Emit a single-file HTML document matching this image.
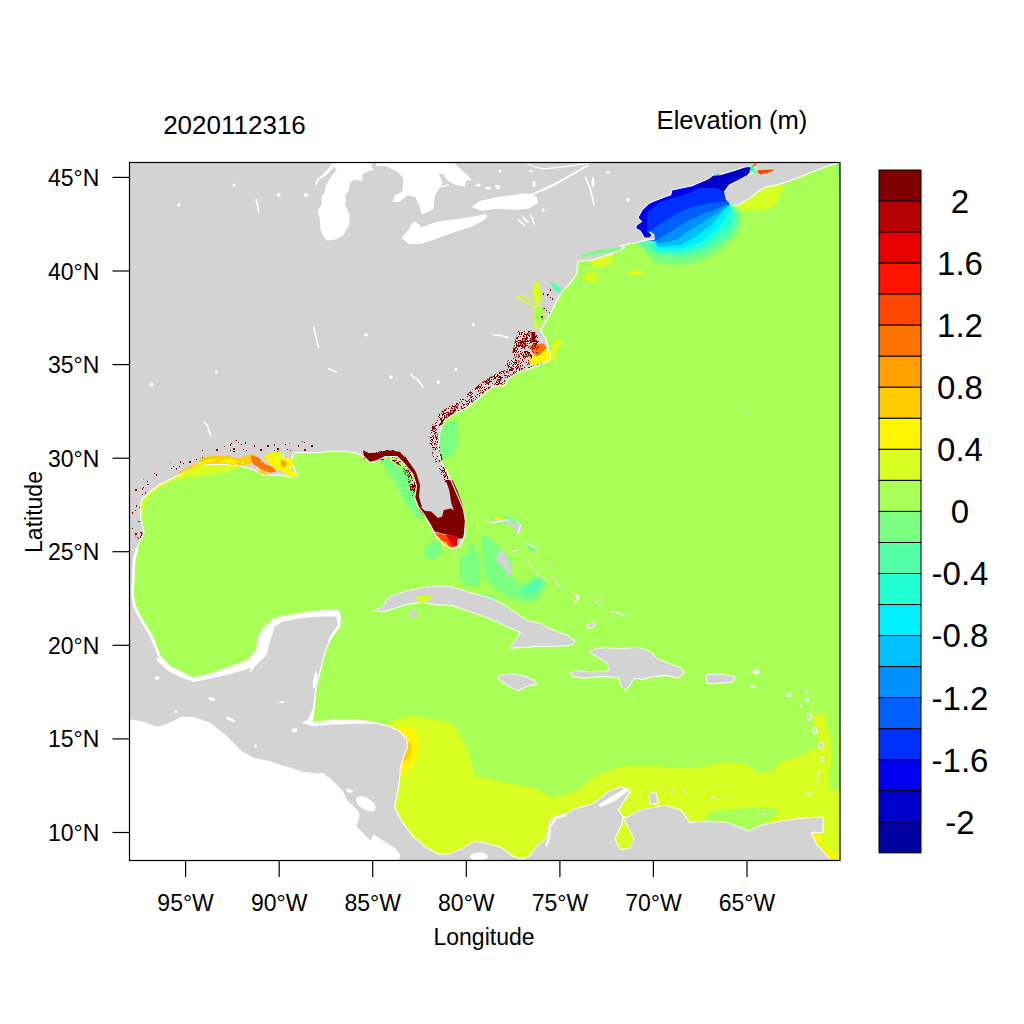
<!DOCTYPE html>
<html><head><meta charset="utf-8"><style>
html,body{margin:0;padding:0;background:#fff;width:1024px;height:1024px;overflow:hidden}
svg{display:block}
text{font-family:"Liberation Sans",sans-serif;fill:#000}
.ax{font-size:23px}
.cb{font-size:33px}
.k{stroke:#000;stroke-width:1.2}
</style></head><body>
<svg width="1024" height="1024" viewBox="0 0 1024 1024">
<rect x="129.5" y="162.5" width="710.5" height="698" fill="#fff"/>
<g id="map">
<rect x="129.5" y="162.5" width="710.5" height="698" fill="#D3D3D3"/>
<defs><clipPath id="oc"><polygon points="840,162.5 838.5,162.6 830.3,165.1 822.1,168.2 813.8,171.3 803.6,175.4 793.3,179.5 783.1,183.1 773.8,185.6 767.7,186.7 760.5,189.7 750.3,197.9 740,204.1 738.8,205.3 732.5,205.3 726.3,199.1 724.7,191.3 729.4,185 738.8,180.3 755.9,170.9 754.4,163.9 751.3,166.3 745,167 732.5,170.9 720,174.8 713.1,175 707.7,179.1 691.3,186 671.9,190 670.7,194.7 663.1,197.6 655.5,200.5 649.6,202.9 642.6,209.3 637.9,217.5 641.4,221.6 636.7,225.1 635.5,228.1 640.2,231 644.3,238 649.6,238 652.3,235 649.8,232.2 653.7,234.5 654.3,239.2 644.3,240.4 636.7,242.7 629.4,243.5 620,245.9 625,247.2 618.75,251.1 593.75,259.7 578,261.25 576.6,273.75 570.3,283.1 562.5,290.9 557.8,298.75 551.6,311.25 545.3,322.2 540.6,330 545.6,338.6 550.3,355 549.7,360.6 538.75,365.3 529.4,368.4 520,371.6 513.75,374.7 507.5,379.4 504.4,385.6 498.1,385.6 491.9,387.2 482.5,395 473.1,402.8 466.9,407.5 454.4,413.75 445,420 440.3,429.4 438.75,441.9 438.1,446.9 440,458.6 446,470.3 451.8,482 457.7,495.7 463.5,509.4 465.5,521.1 464.5,536.7 459.6,546.5 451.8,548.4 444,544.5 436.2,536.7 430.3,525 424.5,515.2 418.6,507.4 414.7,497.7 416.6,485.9 412.7,474.2 404.9,464.5 397.1,456.6 385.4,456.6 377.6,460.5 369.8,462.5 363.9,456.6 354,452.5 341.5,451.25 329,451.25 319,452.5 304,452.5 293.75,452.8 291.4,461 297.3,476.25 290,477 282,475 263.3,475 252.7,469.2 238.7,465.7 224,464.5 211.5,464.5 199,465 189,468.75 179,475 169,480 159,485 149,492.5 141.5,500 140.8,505 140.8,518.7 144.3,532.7 137.3,546.8 134.7,559.1 132.9,594.2 135,606 140.8,617.1 151.4,634.7 160.1,655.7 169.6,666.25 182.1,672.5 193.1,678.1 210.25,674.1 232.1,666.25 247.75,660 250,658.1 256.6,649.8 258.3,636.5 264.9,626.6 274.9,618.3 291.5,614.9 313.1,611.6 338,610 340.5,616.6 339.6,626.6 331.3,638.2 326.4,648.1 323,659.8 319.7,673 316.4,686.3 314.7,702.9 312.25,722.8 321.4,721.2 338,720.4 356.2,719.5 376.2,722.8 389.4,726.2 399.4,731.1 406,737.8 407.7,746.1 402.7,759.4 400.2,770 399.5,780 397.6,791.7 394.6,807.3 401.5,821 413.2,836.6 424.9,846.4 438.6,854.2 448.4,854.2 462,848.4 473.75,841.5 483.5,842.5 501.1,847.4 512.8,856.2 520.6,859.1 528.4,857.1 536.25,846.4 546,838.6 549.9,821 555.8,816.1 567.5,813.2 575.3,808.3 580,807.3 593.1,803.75 608.75,791.25 621.25,786.6 630.6,791.25 624.4,800.6 618.1,810 622.8,816.25 625.9,817.8 640,810 665,805.3 680.6,810 690,822.5 705.6,821 727.5,822.5 743.1,828.75 748,831 762,825.1 783.1,820.5 801.9,818.1 823,817 823,832.2 811.2,832.2 817,845 830,859 840,860.5"/></clipPath></defs>
<polygon fill="#A8FF55" points="840,162.5 838.5,162.6 830.3,165.1 822.1,168.2 813.8,171.3 803.6,175.4 793.3,179.5 783.1,183.1 773.8,185.6 767.7,186.7 760.5,189.7 750.3,197.9 740,204.1 738.8,205.3 732.5,205.3 726.3,199.1 724.7,191.3 729.4,185 738.8,180.3 755.9,170.9 754.4,163.9 751.3,166.3 745,167 732.5,170.9 720,174.8 713.1,175 707.7,179.1 691.3,186 671.9,190 670.7,194.7 663.1,197.6 655.5,200.5 649.6,202.9 642.6,209.3 637.9,217.5 641.4,221.6 636.7,225.1 635.5,228.1 640.2,231 644.3,238 649.6,238 652.3,235 649.8,232.2 653.7,234.5 654.3,239.2 644.3,240.4 636.7,242.7 629.4,243.5 620,245.9 625,247.2 618.75,251.1 593.75,259.7 578,261.25 576.6,273.75 570.3,283.1 562.5,290.9 557.8,298.75 551.6,311.25 545.3,322.2 540.6,330 545.6,338.6 550.3,355 549.7,360.6 538.75,365.3 529.4,368.4 520,371.6 513.75,374.7 507.5,379.4 504.4,385.6 498.1,385.6 491.9,387.2 482.5,395 473.1,402.8 466.9,407.5 454.4,413.75 445,420 440.3,429.4 438.75,441.9 438.1,446.9 440,458.6 446,470.3 451.8,482 457.7,495.7 463.5,509.4 465.5,521.1 464.5,536.7 459.6,546.5 451.8,548.4 444,544.5 436.2,536.7 430.3,525 424.5,515.2 418.6,507.4 414.7,497.7 416.6,485.9 412.7,474.2 404.9,464.5 397.1,456.6 385.4,456.6 377.6,460.5 369.8,462.5 363.9,456.6 354,452.5 341.5,451.25 329,451.25 319,452.5 304,452.5 293.75,452.8 291.4,461 297.3,476.25 290,477 282,475 263.3,475 252.7,469.2 238.7,465.7 224,464.5 211.5,464.5 199,465 189,468.75 179,475 169,480 159,485 149,492.5 141.5,500 140.8,505 140.8,518.7 144.3,532.7 137.3,546.8 134.7,559.1 132.9,594.2 135,606 140.8,617.1 151.4,634.7 160.1,655.7 169.6,666.25 182.1,672.5 193.1,678.1 210.25,674.1 232.1,666.25 247.75,660 250,658.1 256.6,649.8 258.3,636.5 264.9,626.6 274.9,618.3 291.5,614.9 313.1,611.6 338,610 340.5,616.6 339.6,626.6 331.3,638.2 326.4,648.1 323,659.8 319.7,673 316.4,686.3 314.7,702.9 312.25,722.8 321.4,721.2 338,720.4 356.2,719.5 376.2,722.8 389.4,726.2 399.4,731.1 406,737.8 407.7,746.1 402.7,759.4 400.2,770 399.5,780 397.6,791.7 394.6,807.3 401.5,821 413.2,836.6 424.9,846.4 438.6,854.2 448.4,854.2 462,848.4 473.75,841.5 483.5,842.5 501.1,847.4 512.8,856.2 520.6,859.1 528.4,857.1 536.25,846.4 546,838.6 549.9,821 555.8,816.1 567.5,813.2 575.3,808.3 580,807.3 593.1,803.75 608.75,791.25 621.25,786.6 630.6,791.25 624.4,800.6 618.1,810 622.8,816.25 625.9,817.8 640,810 665,805.3 680.6,810 690,822.5 705.6,821 727.5,822.5 743.1,828.75 748,831 762,825.1 783.1,820.5 801.9,818.1 823,817 823,832.2 811.2,832.2 817,845 830,859 840,860.5" />
<g clip-path="url(#oc)">
<polygon fill="#D9FF22" points="385,726.2 389.4,722.8 399.4,717.9 409.4,716.2 420,717 449,722.5 452.5,724 461.9,738.1 471.25,760 474.4,775.6 502.5,781.9 533.75,788.1 552.5,797.5 577.5,791.25 596.25,775.6 621.25,766.25 658.75,766.25 680,767.7 703.4,766.6 726.9,761.9 745.6,764.2 759.7,773.6 770,772.3 776.8,767.4 780.7,760.5 791.5,758.6 802.2,754.7 813,749.8 818.8,747.9 817.9,739.1 815.9,727.3 812,717.6 814,713.7 824.7,712.7 826.6,724.4 830.5,739.1 831.5,758.6 828.6,778.1 829.6,789.8 845,790.8 845,870 380,870" />
<polygon fill="#FFF500" points="390,729 394.6,728.75 410,727 419.6,738 416.5,760 404,775.6 396,776" />
<polygon fill="#FFCC00" points="398,737 404,738 411.8,744.4 410.25,757 402.3,763 397,762" />
<polygon fill="#A8FF55" points="703,822.8 710,811 738,808.5 757,807.5 780,808.7 779,812 762,825 748,831 731.6,827.5 724.5,820.5" />
<polygon fill="#A8FF55" points="787.4,823.2 811.5,820.7 812.3,826.5 804.8,831.5 796.5,834.8 791.5,827.4" />
<polygon fill="#FFF500" points="809,832.3 819.8,832.3 821.4,839.8 826.4,844.8 838.9,858.9 828.1,859.7 824.7,846.4 811.5,835.7" />
<polygon fill="#7AFF80" points="640.5,245.3 653.4,261.7 671,265.2 695.6,262.9 719,251.2 735.5,235.9 742.5,221.9 741.3,213.7 733.1,206.6 735,200 760,150 620,150 625,238" />
<polygon fill="#55FFAA" points="643,247 657.8,255 681.25,257.3 704.7,252.7 730,236.25 738,222 737,212 731,206 735,200 760,150 620,150 625,238" />
<polygon fill="#22FFD5" points="653,239.5 652,246 657.8,251.9 681.25,252.7 704.7,246.4 730,226.9 734,214 731,205.5 735,200 760,150 620,150 625,238" />
<polygon fill="#00F0FF" points="654,239 656,246 659,248.75 681.25,248.75 700.8,242.5 716.4,230 730,211.25 730,205 735,200 760,150 620,150 625,238" />
<polygon fill="#00C0FF" points="654.5,239 657,244.5 659,246.4 681.25,244.8 696.9,236.25 712.5,223.75 728,205 735,200 760,150 620,150 625,238" />
<polygon fill="#0090FF" points="655,239 657.8,243.5 677.3,239.4 689,230.8 704.7,221.4 728,205.8 735,200 760,150 620,150 625,238" />
<polygon fill="#0060FF" points="654.7,240.9 673.4,230 689,220.6 704.7,213.6 728,204.2 735,200 760,150 620,150 625,238" />
<polygon fill="#0030FF" points="650,230.8 665.6,220.6 681.25,211.25 696.9,205.8 712.5,202.7 728,201.1 735,200 760,150 620,150 625,238" />
<polygon fill="#0000F0" points="647.3,234 647.3,212.5 660,202 673.4,198 689,193.3 700.8,187.8 711,182.3 730,182 735,200 760,150 620,150 625,238" />
<polygon fill="#0000C8" points="690,186 706,188 716,188 724,192 730,186 760,160 760,150 690,150" />
<polygon fill="#0000C8" points="641,231 647,232.5 650.5,233 652,235.5 650,238.3 644.5,238.3" />
<polygon fill="#D9FF22" points="740.0,204.1 750.3,197.9 760.5,189.7 767.7,186.7 773.8,185.6 783.1,184.6 784.1,190.8 779.0,195.9 777.9,203.1 768.7,209.2 758.5,210.3 740.0,210.3" />
<polygon fill="#7AFF80" points="835.4,162.6 840.5,162.6 840.5,178.5 838.5,177.4 836.9,168.2" />
<polygon fill="#7AFF80" points="444.0,425.4 453.8,419.5 457.7,429.3 457.7,443.0 451.8,454.7 444.0,460.5 440.1,458.6 438.1,446.9 440.1,435.2" />
<polygon fill="#7AFF80" points="457.1,421 458.1,434.7 456.1,446.4 449.3,457.1 443.4,460.1 439.5,448.4 440.5,432.7 447.3,423" />
<polygon fill="#7AFF80" points="383.4,456.6 395.2,464.5 406.9,470.3 414.7,482.0 416.6,497.7 418.6,509.4 424.5,519.1 416.6,517.2 406.9,505.5 397.1,487.9 387.3,470.3 379.5,458.6" />
<polygon fill="#7AFF80" points="424.5,548.4 432.3,540.6 442.0,544.5 442.0,554.3 434.2,559.2 424.5,558.2" />
<polygon fill="#D9FF22" points="553.9,340.6 560.9,339 562.5,342.2 558.6,350 554.7,360.9 550.8,360.2 550.8,350" />
<polygon fill="#D9FF22" points="138,520 140.7,504 152.4,490.3 168,478.6 187.6,468.8 207.1,464 222.75,464 240.3,467.85 226.7,471.75 207.1,475.5 187.6,477.5 168,483 155,491 146,501 142,516" />
<polygon fill="#7AFF80" points="482.3,535.5 489.1,536.9 497.3,545.1 501.4,549.2 508.3,557.4 516.5,565.6 527.4,572.5 534.3,576.6 543.8,579.3 546.6,584.8 541.1,594.3 534.3,601.2 522.0,601.2 511.0,598.4 497.3,590.2 486.4,579.3 483.7,562.9 480.9,546.5" />
<polygon fill="#A8FF55" points="513.8,558.8 520.6,558.8 520.6,568.4 527.4,571.1 531.5,576.6 528.8,582.0 519.2,583.4 512.4,576.6 511.0,565.6" />
<polygon fill="#55FFAA" points="520.6,590.2 535.6,580.7 541.1,577.9 541.1,587.5 531.5,594.3 522.0,594.3" />
<polygon fill="#7AFF80" points="490.5,517.8 504.2,515.0 513.8,517.8 522.0,523.2 520.6,530.1 517.9,535.5 513.8,527.3 506.9,523.2 491.9,521.9" />
<polygon fill="#D9FF22" points="493.9,517.1 502.1,514.4 503.5,519.8 494.6,520.5" />
<polygon fill="#7AFF80" points="468.6,542.4 474.1,545.1 480.9,561.5 480.3,582.0 474.1,586.1 468.6,584.8" />
<polygon fill="#7AFF80" points="524.7,543.8 534.3,546.5 535.6,552.0 528.8,549.2" />
<polygon fill="#7AFF80" points="459.6,556.2 469.4,554.3 477.2,571.9 479.1,585.5 465.5,585.5 459.6,575.8" />
<polygon fill="#7AFF80" points="475.3,595.8 490.3,594.7 498.9,600.1 481.7,602.2" />
<polygon fill="#D9FF22" points="587.5,258.1 612.5,253.4 612.5,262.8 603.1,267.5 593.8,266.7" />
<polygon fill="#D9FF22" points="584.4,273.8 593.8,271.4 598.4,275.3 596.9,281.6 587.5,281.6 582.8,278.4" />
<polygon fill="#D9FF22" points="626.6,271.4 640.6,269.8 644.5,273.0 637.5,275.3 628.1,274.5" />
</g>
<polygon fill="#FFFFFF" points="129.5,718.9 144.6,722 157.1,726.7 169.6,722.8 182.1,716.6 194.6,717.3 210.25,722.8 225.9,735.3 241.5,750.9 254,758 269.6,761.1 280,764.8 289.4,767.2 303.4,771.9 320.6,773.4 330,778.1 342.5,790.6 347.2,800 358.1,810.9 359.7,815.6 356.6,826.6 367.5,837.5 370.6,840.6 373.75,834.4 383.1,840.6 395.6,848.4 400.3,854.7 398.75,860.5 129.5,860.5" />
<ellipse cx="365.9" cy="803.9" rx="11" ry="5.8" transform="rotate(32 365.9 803.9)" fill="#fff"/>
<polygon fill="#D3D3D3" points="374.3,610.8 382.9,606.5 386.1,600.1 391.5,595.8 404.4,591.5 419.4,588.3 434.5,586.1 447.4,586.1 460.2,589.3 473.1,593.6 490.3,597.9 503.2,604.4 516.1,613 526.9,620.5 541.9,623.7 548.3,628 559.1,632.3 569.8,636.6 575.2,640.9 572,645.2 556.9,646.3 537.6,646.3 509.7,648.4 516.1,638.8 520.4,632.3 507.5,627 496.8,621.5 483.9,616.5 466.7,610.5 451.7,605.5 434.5,604.4 421.6,602.2 406.5,604.4 393.6,608.7 382.9,611.9" stroke="#fff" stroke-width="1"/>
<circle cx="413" cy="614" r="4.3" fill="#D3D3D3"/>
<polygon fill="#D9FF22" points="416.5,596 428,595.5 434,597.5 428,600 422,604 417,601" />
<polygon fill="#D3D3D3" points="497.6,676.8 507.8,673.5 523,675.6 534.4,680.6 537,684.4 528.1,685.7 517.9,690.8 510.3,687 500.2,680.6" stroke="#fff" stroke-width="1"/>
<polygon fill="#D3D3D3" points="589,650.2 604.3,647.6 622,648.9 637.3,647.1 650,651.4 657.6,659 667.8,662.9 680.5,667.9 684.3,673 677.9,678.1 667.8,675.6 652.5,676.8 642.4,679.4 634.7,678.1 630.9,683.2 625.9,690.8 620.8,685.7 619.5,678.1 609.3,676.8 596.7,676.8 584,678.1 573.8,676.8 570,673 576.3,670.5 589,671.7 601.7,671.7 609.3,670.5 606.8,662.9 596.7,656.5 590.3,652.7" stroke="#fff" stroke-width="1"/>
<polygon fill="#D3D3D3" points="705.8,674.3 723.6,674.3 735,676.8 732.5,681.9 713.5,683.7 707.1,683.2" stroke="#fff" stroke-width="1"/>
<polygon fill="#FFFFFF" points="250,658.1 256.6,649.8 258.3,636.5 264.9,626.6 274.9,618.3 291.5,614.9 313.1,611.6 338,610 340.5,616.6 339.6,626.6 331.3,638.2 326.4,648.1 323,659.8 319.7,673 316.4,686.3 314.7,702.9 312.25,722.8 321.4,721.2 338,720.4 356.2,719.5 376.2,722.8 389.4,726.2 391.1,727.8 376.2,723.7 356.2,723.7 333,724.5 313.1,726.2 301.5,722.8 308.1,719.5 313.1,707.9 314.7,693 316.4,679.7 321.4,666.4 326.4,649.8 329.7,636.5 338,624.9 336.3,616.6 319.7,616.6 299.8,618.3 283.2,621.6 274.9,626.6 269.9,641.5 266.6,654.8 255,666.4 250,673" />
<polygon fill="#FFFFFF" points="331.5,162.9 372.5,162.9 371,167.3 374,169.8 366.2,172.2 361.8,175.1 362.7,180.5 354,180 349.6,183.4 349,190.3 345.2,195.6 346.1,202 344.7,204.4 347.6,210.3 349.6,214.7 349.6,224.5 343.2,235.2 335.4,239.6 327.1,240.6 323.7,237.1 320.3,229.3 319.8,218.6 317.8,210.8 321.7,203.9 321.7,196.6 324.6,192.2 325.6,186.4 328.6,180.5 336.4,169.8" />
<polygon fill="#FFFFFF" points="315.9,185.9 319.3,179 324.6,176.6 332.5,168.8 335.9,163.4 332,163.4 327.6,169.8 322.7,174.6 317.3,179 315.4,183.4" />
<polygon fill="#FFFFFF" points="376.1,162.9 454.2,162.9 460.1,168.8 466.9,174.6 471.8,180.5 465.9,180.5 465.0,186.4 454.2,184.4 447.4,180.5 443.5,174.6 438.6,172.7 442.5,182.5 438.6,189.3 434.7,196.1 433.7,208.8 422.0,214.7 419.1,204.9 415.2,197.1 407.3,195.2 399.5,202.0 392.7,202.0 394.6,196.1 402.5,191.2 403.4,178.6 398.6,172.7 385.9,165.9 376.1,165.9" />
<polygon fill="#FFFFFF" points="401.5,238.1 409.3,228.4 411.2,224.5 415.2,221.5 419.1,224.5 421.0,227.4 434.7,222.5 444.5,220.5 462.0,218.6 477.7,215.7 485.5,213.7 487.4,216.6 483.5,220.5 471.8,226.4 454.2,232.3 438.6,238.1 421.0,244.0 409.3,244.0" />
<polygon fill="#FFFFFF" points="471.8,206.9 479.6,201.0 497.2,197.1 512.8,195.2 524.5,193.2 536.2,196.1 538.2,203.0 528.4,208.8 516.7,209.8 497.2,208.8 481.6,210.8" />
<polyline fill="none" stroke="#fff" stroke-width="1.8" points="525,195 532.4,194.3 552.7,185.4 573,174 588.2,165.1"/>
<polyline fill="none" stroke="#fff" stroke-width="1.2" points="527.3,163.8 535,167 542.5,168.9 557.8,167.6 583.1,163.8 589,163"/>
<defs><pattern id="spk" width="36" height="36" patternUnits="userSpaceOnUse"><g fill="#800000"><rect x="13" y="21" width="1" height="1"/><rect x="17" y="22" width="1" height="1"/><rect x="14" y="20" width="1" height="1"/><rect x="16" y="21" width="1" height="1"/><rect x="17" y="21" width="1" height="1"/><rect x="17" y="18" width="1" height="1"/><rect x="20" y="12" width="1" height="1"/><rect x="21" y="14" width="1" height="1"/><rect x="20" y="14" width="1" height="1"/><rect x="21" y="15" width="1" height="1"/><rect x="23" y="14" width="1" height="1"/><rect x="18" y="15" width="1" height="1"/><rect x="19" y="23" width="1" height="1"/><rect x="17" y="21" width="1" height="1"/><rect x="15" y="21" width="1" height="1"/><rect x="19" y="23" width="1" height="1"/><rect x="18" y="21" width="1" height="1"/><rect x="20" y="23" width="1" height="1"/><rect x="1" y="6" width="1" height="1"/><rect x="3" y="3" width="1" height="1"/><rect x="4" y="7" width="1" height="1"/><rect x="0" y="4" width="1" height="1"/><rect x="3" y="4" width="1" height="1"/><rect x="21" y="29" width="1" height="1"/><rect x="24" y="28" width="1" height="1"/><rect x="23" y="27" width="1" height="1"/><rect x="22" y="27" width="1" height="1"/><rect x="20" y="28" width="1" height="1"/><rect x="25" y="9" width="1" height="1"/><rect x="26" y="8" width="1" height="1"/><rect x="25" y="7" width="1" height="1"/><rect x="24" y="7" width="1" height="1"/><rect x="27" y="6" width="1" height="1"/><rect x="23" y="9" width="1" height="1"/><rect x="24" y="8" width="1" height="1"/><rect x="31" y="23" width="1" height="1"/><rect x="30" y="23" width="1" height="1"/><rect x="28" y="21" width="1" height="1"/><rect x="12" y="2" width="1" height="1"/><rect x="12" y="1" width="1" height="1"/><rect x="10" y="3" width="1" height="1"/><rect x="11" y="2" width="1" height="1"/><rect x="30" y="7" width="1" height="1"/><rect x="29" y="5" width="1" height="1"/><rect x="32" y="8" width="1" height="1"/><rect x="29" y="5" width="1" height="1"/><rect x="13" y="17" width="1" height="1"/><rect x="17" y="18" width="1" height="1"/><rect x="14" y="19" width="1" height="1"/><rect x="7" y="29" width="1" height="1"/><rect x="12" y="27" width="1" height="1"/><rect x="10" y="30" width="1" height="1"/><rect x="8" y="27" width="1" height="1"/><rect x="10" y="30" width="1" height="1"/><rect x="11" y="28" width="1" height="1"/><rect x="10" y="30" width="1" height="1"/><rect x="7" y="3" width="1" height="1"/><rect x="9" y="2" width="1" height="1"/><rect x="12" y="0" width="1" height="1"/><rect x="7" y="0" width="1" height="1"/><rect x="8" y="1" width="1" height="1"/><rect x="0" y="33" width="1" height="1"/><rect x="3" y="0" width="1" height="1"/><rect x="35" y="0" width="1" height="1"/><rect x="35" y="5" width="1" height="1"/><rect x="2" y="1" width="1" height="1"/><rect x="26" y="31" width="1" height="1"/><rect x="27" y="32" width="1" height="1"/><rect x="27" y="33" width="1" height="1"/><rect x="29" y="33" width="1" height="1"/><rect x="26" y="32" width="1" height="1"/><rect x="26" y="32" width="1" height="1"/><rect x="25" y="31" width="1" height="1"/><rect x="27" y="32" width="1" height="1"/><rect x="5" y="2" width="1" height="1"/><rect x="1" y="5" width="1" height="1"/><rect x="1" y="3" width="1" height="1"/><rect x="3" y="3" width="1" height="1"/><rect x="3" y="3" width="1" height="1"/><rect x="22" y="17" width="1" height="1"/><rect x="22" y="15" width="1" height="1"/><rect x="18" y="17" width="1" height="1"/><rect x="21" y="17" width="1" height="1"/><rect x="21" y="17" width="1" height="1"/><rect x="23" y="17" width="1" height="1"/><rect x="21" y="17" width="1" height="1"/><rect x="19" y="19" width="1" height="1"/><rect x="24" y="17" width="1" height="1"/><rect x="14" y="21" width="1" height="1"/><rect x="11" y="23" width="1" height="1"/><rect x="14" y="21" width="1" height="1"/><rect x="16" y="20" width="1" height="1"/><rect x="15" y="22" width="1" height="1"/><rect x="32" y="28" width="1" height="1"/><rect x="32" y="32" width="1" height="1"/><rect x="34" y="29" width="1" height="1"/><rect x="33" y="30" width="1" height="1"/><rect x="33" y="29" width="1" height="1"/><rect x="32" y="28" width="1" height="1"/><rect x="10" y="27" width="1" height="1"/><rect x="12" y="30" width="1" height="1"/><rect x="10" y="31" width="1" height="1"/><rect x="26" y="0" width="1" height="1"/><rect x="27" y="33" width="1" height="1"/><rect x="30" y="34" width="1" height="1"/><rect x="6" y="14" width="1" height="1"/><rect x="6" y="17" width="1" height="1"/><rect x="7" y="19" width="1" height="1"/><rect x="3" y="16" width="1" height="1"/><rect x="15" y="1" width="1" height="1"/><rect x="18" y="35" width="1" height="1"/><rect x="20" y="34" width="1" height="1"/><rect x="19" y="1" width="1" height="1"/><rect x="20" y="32" width="1" height="1"/><rect x="19" y="32" width="1" height="1"/><rect x="21" y="33" width="1" height="1"/><rect x="23" y="32" width="1" height="1"/><rect x="24" y="30" width="1" height="1"/><rect x="23" y="32" width="1" height="1"/><rect x="10" y="13" width="1" height="1"/><rect x="9" y="12" width="1" height="1"/><rect x="11" y="12" width="1" height="1"/><rect x="11" y="4" width="1" height="1"/><rect x="12" y="6" width="1" height="1"/><rect x="13" y="5" width="1" height="1"/><rect x="12" y="3" width="1" height="1"/><rect x="10" y="2" width="1" height="1"/><rect x="14" y="2" width="1" height="1"/><rect x="1" y="30" width="1" height="1"/><rect x="1" y="31" width="1" height="1"/><rect x="0" y="32" width="1" height="1"/><rect x="0" y="34" width="1" height="1"/><rect x="35" y="34" width="1" height="1"/><rect x="34" y="31" width="1" height="1"/><rect x="1" y="30" width="1" height="1"/><rect x="11" y="16" width="1" height="1"/><rect x="13" y="13" width="1" height="1"/><rect x="10" y="13" width="1" height="1"/><rect x="9" y="13" width="1" height="1"/><rect x="10" y="13" width="1" height="1"/><rect x="12" y="13" width="1" height="1"/><rect x="9" y="15" width="1" height="1"/><rect x="21" y="20" width="1" height="1"/><rect x="16" y="18" width="1" height="1"/><rect x="20" y="16" width="1" height="1"/><rect x="20" y="19" width="1" height="1"/><rect x="18" y="20" width="1" height="1"/><rect x="23" y="16" width="1" height="1"/><rect x="19" y="17" width="1" height="1"/><rect x="19" y="17" width="1" height="1"/><rect x="10" y="25" width="1" height="1"/><rect x="10" y="25" width="1" height="1"/><rect x="9" y="24" width="1" height="1"/><rect x="19" y="19" width="1" height="1"/><rect x="17" y="18" width="1" height="1"/><rect x="16" y="17" width="1" height="1"/><rect x="16" y="19" width="1" height="1"/><rect x="17" y="17" width="1" height="1"/><rect x="18" y="20" width="1" height="1"/><rect x="16" y="16" width="1" height="1"/><rect x="30" y="24" width="1" height="1"/><rect x="31" y="19" width="1" height="1"/><rect x="30" y="23" width="1" height="1"/><rect x="31" y="21" width="1" height="1"/><rect x="0" y="31" width="1" height="1"/><rect x="1" y="32" width="1" height="1"/><rect x="32" y="33" width="1" height="1"/><rect x="33" y="31" width="1" height="1"/><rect x="8" y="23" width="1" height="1"/><rect x="5" y="24" width="1" height="1"/><rect x="5" y="24" width="1" height="1"/><rect x="24" y="10" width="1" height="1"/><rect x="22" y="12" width="1" height="1"/><rect x="23" y="10" width="1" height="1"/><rect x="24" y="11" width="1" height="1"/><rect x="23" y="13" width="1" height="1"/><rect x="23" y="13" width="1" height="1"/><rect x="22" y="14" width="1" height="1"/><rect x="22" y="11" width="1" height="1"/><rect x="23" y="4" width="1" height="1"/><rect x="22" y="2" width="1" height="1"/><rect x="24" y="2" width="1" height="1"/><rect x="24" y="31" width="1" height="1"/><rect x="22" y="32" width="1" height="1"/><rect x="24" y="29" width="1" height="1"/><rect x="25" y="29" width="1" height="1"/><rect x="4" y="29" width="1" height="1"/><rect x="3" y="32" width="1" height="1"/><rect x="1" y="32" width="1" height="1"/><rect x="2" y="31" width="1" height="1"/><rect x="3" y="29" width="1" height="1"/><rect x="3" y="29" width="1" height="1"/><rect x="2" y="31" width="1" height="1"/><rect x="1" y="31" width="1" height="1"/><rect x="7" y="8" width="1" height="1"/><rect x="6" y="7" width="1" height="1"/><rect x="5" y="9" width="1" height="1"/><rect x="5" y="6" width="1" height="1"/><rect x="34" y="25" width="1" height="1"/><rect x="34" y="24" width="1" height="1"/><rect x="32" y="23" width="1" height="1"/><rect x="34" y="24" width="1" height="1"/><rect x="32" y="25" width="1" height="1"/><rect x="4" y="5" width="1" height="1"/><rect x="5" y="4" width="1" height="1"/><rect x="3" y="4" width="1" height="1"/><rect x="4" y="7" width="1" height="1"/><rect x="15" y="16" width="1" height="1"/><rect x="18" y="16" width="1" height="1"/><rect x="21" y="19" width="1" height="1"/><rect x="19" y="17" width="1" height="1"/><rect x="20" y="17" width="1" height="1"/><rect x="18" y="18" width="1" height="1"/><rect x="17" y="18" width="1" height="1"/><rect x="1" y="35" width="1" height="1"/><rect x="1" y="35" width="1" height="1"/><rect x="0" y="34" width="1" height="1"/><rect x="4" y="33" width="1" height="1"/><rect x="2" y="33" width="1" height="1"/><rect x="2" y="32" width="1" height="1"/><rect x="20" y="16" width="1" height="1"/><rect x="22" y="14" width="1" height="1"/><rect x="26" y="14" width="1" height="1"/><rect x="25" y="16" width="1" height="1"/><rect x="21" y="15" width="1" height="1"/><rect x="23" y="14" width="1" height="1"/><rect x="19" y="14" width="1" height="1"/><rect x="22" y="13" width="1" height="1"/><rect x="35" y="28" width="1" height="1"/><rect x="34" y="29" width="1" height="1"/><rect x="0" y="28" width="1" height="1"/><rect x="0" y="30" width="1" height="1"/><rect x="0" y="30" width="1" height="1"/><rect x="33" y="28" width="1" height="1"/><rect x="34" y="28" width="1" height="1"/><rect x="29" y="28" width="1" height="1"/><rect x="26" y="30" width="1" height="1"/><rect x="28" y="27" width="1" height="1"/><rect x="25" y="28" width="1" height="1"/><rect x="9" y="23" width="1" height="1"/><rect x="9" y="25" width="1" height="1"/><rect x="11" y="24" width="1" height="1"/><rect x="9" y="23" width="1" height="1"/><rect x="8" y="22" width="1" height="1"/><rect x="10" y="24" width="1" height="1"/><rect x="10" y="24" width="1" height="1"/><rect x="8" y="9" width="1" height="1"/><rect x="8" y="14" width="1" height="1"/><rect x="6" y="10" width="1" height="1"/><rect x="12" y="17" width="1" height="1"/><rect x="14" y="19" width="1" height="1"/><rect x="10" y="15" width="1" height="1"/><rect x="12" y="19" width="1" height="1"/><rect x="10" y="31" width="1" height="1"/><rect x="8" y="28" width="1" height="1"/><rect x="9" y="26" width="1" height="1"/><rect x="10" y="31" width="1" height="1"/><rect x="7" y="28" width="1" height="1"/><rect x="10" y="18" width="1" height="1"/><rect x="11" y="18" width="1" height="1"/><rect x="11" y="18" width="1" height="1"/><rect x="12" y="21" width="1" height="1"/><rect x="12" y="20" width="1" height="1"/><rect x="11" y="17" width="1" height="1"/><rect x="9" y="4" width="1" height="1"/><rect x="11" y="4" width="1" height="1"/><rect x="8" y="5" width="1" height="1"/><rect x="12" y="3" width="1" height="1"/><rect x="9" y="6" width="1" height="1"/><rect x="32" y="18" width="1" height="1"/><rect x="0" y="15" width="1" height="1"/><rect x="34" y="17" width="1" height="1"/><rect x="34" y="17" width="1" height="1"/><rect x="12" y="8" width="1" height="1"/><rect x="15" y="8" width="1" height="1"/><rect x="14" y="7" width="1" height="1"/><rect x="11" y="7" width="1" height="1"/><rect x="14" y="6" width="1" height="1"/><rect x="14" y="7" width="1" height="1"/><rect x="13" y="7" width="1" height="1"/><rect x="27" y="14" width="1" height="1"/><rect x="30" y="15" width="1" height="1"/><rect x="30" y="12" width="1" height="1"/><rect x="32" y="16" width="1" height="1"/><rect x="31" y="17" width="1" height="1"/><rect x="29" y="14" width="1" height="1"/><rect x="30" y="17" width="1" height="1"/><rect x="17" y="29" width="1" height="1"/><rect x="18" y="28" width="1" height="1"/><rect x="16" y="27" width="1" height="1"/><rect x="20" y="28" width="1" height="1"/><rect x="21" y="28" width="1" height="1"/><rect x="20" y="27" width="1" height="1"/><rect x="3" y="11" width="1" height="1"/><rect x="35" y="12" width="1" height="1"/><rect x="0" y="10" width="1" height="1"/><rect x="15" y="16" width="1" height="1"/><rect x="13" y="13" width="1" height="1"/><rect x="14" y="16" width="1" height="1"/><rect x="13" y="14" width="1" height="1"/><rect x="33" y="18" width="1" height="1"/><rect x="32" y="16" width="1" height="1"/><rect x="33" y="17" width="1" height="1"/><rect x="29" y="15" width="1" height="1"/><rect x="32" y="17" width="1" height="1"/><rect x="32" y="17" width="1" height="1"/><rect x="32" y="19" width="1" height="1"/><rect x="31" y="16" width="1" height="1"/><rect x="9" y="8" width="1" height="1"/><rect x="4" y="7" width="1" height="1"/><rect x="3" y="9" width="1" height="1"/><rect x="5" y="10" width="1" height="1"/><rect x="33" y="23" width="1" height="1"/><rect x="1" y="24" width="1" height="1"/><rect x="34" y="22" width="1" height="1"/><rect x="19" y="18" width="1" height="1"/><rect x="21" y="17" width="1" height="1"/><rect x="21" y="16" width="1" height="1"/><rect x="17" y="18" width="1" height="1"/><rect x="16" y="20" width="1" height="1"/><rect x="14" y="30" width="1" height="1"/><rect x="12" y="27" width="1" height="1"/><rect x="16" y="27" width="1" height="1"/><rect x="14" y="27" width="1" height="1"/><rect x="28" y="0" width="1" height="1"/><rect x="27" y="2" width="1" height="1"/><rect x="29" y="1" width="1" height="1"/><rect x="24" y="0" width="1" height="1"/><rect x="22" y="30" width="1" height="1"/><rect x="21" y="32" width="1" height="1"/><rect x="21" y="29" width="1" height="1"/><rect x="22" y="31" width="1" height="1"/><rect x="17" y="30" width="1" height="1"/><rect x="35" y="11" width="1" height="1"/><rect x="32" y="11" width="1" height="1"/><rect x="33" y="13" width="1" height="1"/><rect x="35" y="12" width="1" height="1"/><rect x="30" y="12" width="1" height="1"/><rect x="35" y="9" width="1" height="1"/><rect x="0" y="13" width="1" height="1"/><rect x="2" y="15" width="1" height="1"/><rect x="2" y="11" width="1" height="1"/><rect x="0" y="10" width="1" height="1"/><rect x="1" y="15" width="1" height="1"/><rect x="2" y="12" width="1" height="1"/><rect x="2" y="12" width="1" height="1"/><rect x="0" y="13" width="1" height="1"/><rect x="5" y="16" width="1" height="1"/><rect x="4" y="12" width="1" height="1"/><rect x="5" y="16" width="1" height="1"/><rect x="4" y="6" width="1" height="1"/><rect x="3" y="5" width="1" height="1"/><rect x="4" y="5" width="1" height="1"/><rect x="25" y="4" width="1" height="1"/><rect x="24" y="3" width="1" height="1"/><rect x="26" y="2" width="1" height="1"/><rect x="19" y="21" width="1" height="1"/><rect x="17" y="24" width="1" height="1"/><rect x="19" y="23" width="1" height="1"/><rect x="17" y="19" width="1" height="1"/><rect x="27" y="23" width="1" height="1"/><rect x="28" y="24" width="1" height="1"/><rect x="26" y="24" width="1" height="1"/><rect x="28" y="25" width="1" height="1"/><rect x="28" y="24" width="1" height="1"/><rect x="28" y="22" width="1" height="1"/><rect x="27" y="23" width="1" height="1"/><rect x="9" y="23" width="1" height="1"/><rect x="10" y="21" width="1" height="1"/><rect x="7" y="19" width="1" height="1"/><rect x="9" y="25" width="1" height="1"/><rect x="7" y="21" width="1" height="1"/><rect x="9" y="22" width="1" height="1"/><rect x="6" y="20" width="1" height="1"/><rect x="11" y="0" width="1" height="1"/><rect x="9" y="34" width="1" height="1"/><rect x="11" y="35" width="1" height="1"/><rect x="11" y="33" width="1" height="1"/><rect x="12" y="32" width="1" height="1"/><rect x="26" y="31" width="1" height="1"/><rect x="27" y="31" width="1" height="1"/><rect x="27" y="31" width="1" height="1"/><rect x="24" y="31" width="1" height="1"/><rect x="27" y="34" width="1" height="1"/><rect x="3" y="34" width="1" height="1"/><rect x="3" y="1" width="1" height="1"/><rect x="2" y="35" width="1" height="1"/><rect x="4" y="0" width="1" height="1"/><rect x="23" y="29" width="1" height="1"/><rect x="23" y="28" width="1" height="1"/><rect x="22" y="27" width="1" height="1"/><rect x="21" y="27" width="1" height="1"/><rect x="20" y="9" width="1" height="1"/><rect x="20" y="10" width="1" height="1"/><rect x="19" y="11" width="1" height="1"/><rect x="18" y="14" width="1" height="1"/><rect x="22" y="10" width="1" height="1"/><rect x="19" y="12" width="1" height="1"/><rect x="21" y="10" width="1" height="1"/><rect x="22" y="10" width="1" height="1"/><rect x="31" y="3" width="1" height="1"/><rect x="28" y="3" width="1" height="1"/><rect x="30" y="3" width="1" height="1"/><rect x="1" y="24" width="1" height="1"/><rect x="1" y="24" width="1" height="1"/><rect x="1" y="25" width="1" height="1"/><rect x="3" y="27" width="1" height="1"/><rect x="0" y="26" width="1" height="1"/><rect x="4" y="26" width="1" height="1"/><rect x="16" y="5" width="1" height="1"/><rect x="23" y="4" width="1" height="1"/><rect x="18" y="5" width="1" height="1"/><rect x="17" y="9" width="1" height="1"/><rect x="18" y="8" width="1" height="1"/><rect x="23" y="14" width="1" height="1"/><rect x="23" y="14" width="1" height="1"/><rect x="19" y="14" width="1" height="1"/><rect x="0" y="8" width="1" height="1"/><rect x="35" y="9" width="1" height="1"/><rect x="0" y="8" width="1" height="1"/><rect x="0" y="7" width="1" height="1"/><rect x="0" y="10" width="1" height="1"/><rect x="15" y="10" width="1" height="1"/><rect x="10" y="11" width="1" height="1"/><rect x="10" y="14" width="1" height="1"/><rect x="12" y="11" width="1" height="1"/><rect x="32" y="12" width="1" height="1"/><rect x="29" y="10" width="1" height="1"/><rect x="29" y="12" width="1" height="1"/><rect x="34" y="11" width="1" height="1"/><rect x="29" y="11" width="1" height="1"/><rect x="31" y="9" width="1" height="1"/><rect x="7" y="18" width="1" height="1"/><rect x="10" y="13" width="1" height="1"/><rect x="11" y="17" width="1" height="1"/><rect x="11" y="16" width="1" height="1"/><rect x="8" y="23" width="1" height="1"/><rect x="8" y="27" width="1" height="1"/><rect x="11" y="24" width="1" height="1"/><rect x="9" y="27" width="1" height="1"/><rect x="11" y="24" width="1" height="1"/><rect x="9" y="28" width="1" height="1"/><rect x="13" y="28" width="1" height="1"/><rect x="16" y="18" width="1" height="1"/><rect x="14" y="18" width="1" height="1"/><rect x="14" y="19" width="1" height="1"/><rect x="18" y="22" width="1" height="1"/><rect x="16" y="19" width="1" height="1"/><rect x="15" y="18" width="1" height="1"/><rect x="16" y="18" width="1" height="1"/><rect x="29" y="24" width="1" height="1"/><rect x="31" y="22" width="1" height="1"/><rect x="30" y="21" width="1" height="1"/><rect x="30" y="24" width="1" height="1"/><rect x="32" y="20" width="1" height="1"/><rect x="29" y="22" width="1" height="1"/><rect x="31" y="20" width="1" height="1"/><rect x="35" y="7" width="1" height="1"/><rect x="33" y="4" width="1" height="1"/><rect x="34" y="8" width="1" height="1"/><rect x="34" y="5" width="1" height="1"/><rect x="19" y="30" width="1" height="1"/><rect x="17" y="29" width="1" height="1"/><rect x="16" y="29" width="1" height="1"/><rect x="19" y="31" width="1" height="1"/><rect x="21" y="30" width="1" height="1"/><rect x="18" y="31" width="1" height="1"/><rect x="19" y="33" width="1" height="1"/><rect x="1" y="31" width="1" height="1"/><rect x="2" y="30" width="1" height="1"/><rect x="4" y="33" width="1" height="1"/><rect x="1" y="30" width="1" height="1"/><rect x="2" y="30" width="1" height="1"/><rect x="2" y="30" width="1" height="1"/><rect x="1" y="31" width="1" height="1"/><rect x="12" y="6" width="1" height="1"/><rect x="13" y="8" width="1" height="1"/><rect x="12" y="9" width="1" height="1"/><rect x="14" y="12" width="1" height="1"/><rect x="15" y="9" width="1" height="1"/><rect x="13" y="4" width="1" height="1"/><rect x="5" y="16" width="1" height="1"/><rect x="3" y="17" width="1" height="1"/><rect x="6" y="17" width="1" height="1"/><rect x="1" y="17" width="1" height="1"/><rect x="7" y="15" width="1" height="1"/><rect x="4" y="12" width="1" height="1"/><rect x="4" y="15" width="1" height="1"/><rect x="7" y="18" width="1" height="1"/><rect x="14" y="4" width="1" height="1"/><rect x="17" y="2" width="1" height="1"/><rect x="16" y="3" width="1" height="1"/><rect x="14" y="2" width="1" height="1"/><rect x="13" y="24" width="1" height="1"/><rect x="14" y="22" width="1" height="1"/><rect x="12" y="26" width="1" height="1"/><rect x="13" y="25" width="1" height="1"/><rect x="12" y="27" width="1" height="1"/><rect x="12" y="23" width="1" height="1"/><rect x="10" y="26" width="1" height="1"/><rect x="29" y="16" width="1" height="1"/><rect x="28" y="16" width="1" height="1"/><rect x="26" y="17" width="1" height="1"/><rect x="26" y="15" width="1" height="1"/><rect x="27" y="17" width="1" height="1"/><rect x="27" y="18" width="1" height="1"/><rect x="14" y="33" width="1" height="1"/><rect x="16" y="34" width="1" height="1"/><rect x="14" y="32" width="1" height="1"/><rect x="14" y="0" width="1" height="1"/><rect x="18" y="0" width="1" height="1"/><rect x="15" y="31" width="1" height="1"/><rect x="15" y="32" width="1" height="1"/><rect x="14" y="0" width="1" height="1"/><rect x="24" y="11" width="1" height="1"/><rect x="25" y="12" width="1" height="1"/><rect x="25" y="11" width="1" height="1"/><rect x="22" y="11" width="1" height="1"/><rect x="25" y="12" width="1" height="1"/><rect x="23" y="13" width="1" height="1"/><rect x="23" y="10" width="1" height="1"/><rect x="6" y="10" width="1" height="1"/><rect x="5" y="9" width="1" height="1"/><rect x="8" y="10" width="1" height="1"/><rect x="6" y="9" width="1" height="1"/><rect x="8" y="8" width="1" height="1"/><rect x="7" y="10" width="1" height="1"/><rect x="7" y="7" width="1" height="1"/><rect x="7" y="9" width="1" height="1"/><rect x="28" y="16" width="1" height="1"/><rect x="31" y="19" width="1" height="1"/><rect x="30" y="19" width="1" height="1"/><rect x="29" y="20" width="1" height="1"/><rect x="32" y="20" width="1" height="1"/><rect x="12" y="21" width="1" height="1"/><rect x="12" y="20" width="1" height="1"/><rect x="10" y="19" width="1" height="1"/><rect x="9" y="17" width="1" height="1"/><rect x="14" y="16" width="1" height="1"/><rect x="16" y="12" width="1" height="1"/><rect x="17" y="8" width="1" height="1"/><rect x="20" y="7" width="1" height="1"/><rect x="17" y="10" width="1" height="1"/><rect x="17" y="8" width="1" height="1"/><rect x="16" y="6" width="1" height="1"/><rect x="17" y="9" width="1" height="1"/><rect x="11" y="15" width="1" height="1"/><rect x="12" y="14" width="1" height="1"/><rect x="8" y="10" width="1" height="1"/><rect x="10" y="14" width="1" height="1"/><rect x="14" y="12" width="1" height="1"/><rect x="22" y="21" width="1" height="1"/><rect x="24" y="23" width="1" height="1"/><rect x="18" y="23" width="1" height="1"/><rect x="20" y="24" width="1" height="1"/><rect x="22" y="21" width="1" height="1"/><rect x="20" y="22" width="1" height="1"/><rect x="1" y="24" width="1" height="1"/><rect x="0" y="21" width="1" height="1"/><rect x="0" y="21" width="1" height="1"/><rect x="0" y="23" width="1" height="1"/><rect x="0" y="20" width="1" height="1"/><rect x="23" y="19" width="1" height="1"/><rect x="20" y="22" width="1" height="1"/><rect x="21" y="22" width="1" height="1"/><rect x="21" y="18" width="1" height="1"/><rect x="25" y="19" width="1" height="1"/><rect x="23" y="21" width="1" height="1"/><rect x="20" y="20" width="1" height="1"/><rect x="21" y="21" width="1" height="1"/><rect x="26" y="18" width="1" height="1"/><rect x="26" y="15" width="1" height="1"/><rect x="26" y="16" width="1" height="1"/><rect x="29" y="19" width="1" height="1"/><rect x="29" y="10" width="1" height="1"/><rect x="33" y="11" width="1" height="1"/><rect x="30" y="12" width="1" height="1"/><rect x="31" y="12" width="1" height="1"/><rect x="31" y="8" width="1" height="1"/><rect x="31" y="13" width="1" height="1"/><rect x="11" y="26" width="1" height="1"/><rect x="14" y="22" width="1" height="1"/><rect x="11" y="23" width="1" height="1"/><rect x="12" y="22" width="1" height="1"/></g></pattern><pattern id="spk2" width="44" height="44" patternUnits="userSpaceOnUse"><g fill="#800000"><rect x="39" y="16" width="2" height="1"/><rect x="41" y="33" width="1" height="1"/><rect x="15" y="41" width="1" height="1"/><rect x="7" y="23" width="1" height="1"/><rect x="24" y="34" width="1" height="2"/><rect x="15" y="0" width="2" height="1"/><rect x="26" y="17" width="1" height="1"/><rect x="10" y="4" width="1" height="2"/><rect x="39" y="28" width="1" height="1"/><rect x="0" y="0" width="1" height="1"/><rect x="10" y="10" width="1" height="1"/><rect x="12" y="34" width="2" height="2"/><rect x="13" y="11" width="2" height="1"/><rect x="24" y="19" width="1" height="1"/><rect x="26" y="10" width="1" height="1"/><rect x="4" y="21" width="1" height="2"/><rect x="37" y="0" width="2" height="2"/><rect x="21" y="4" width="1" height="1"/><rect x="19" y="30" width="2" height="1"/><rect x="11" y="30" width="1" height="2"/><rect x="11" y="3" width="1" height="1"/><rect x="22" y="25" width="1" height="2"/><rect x="26" y="23" width="1" height="2"/><rect x="0" y="28" width="1" height="2"/><rect x="11" y="39" width="1" height="1"/><rect x="15" y="29" width="1" height="2"/><rect x="22" y="33" width="1" height="1"/><rect x="6" y="37" width="2" height="1"/><rect x="18" y="2" width="1" height="1"/><rect x="13" y="21" width="2" height="2"/><rect x="23" y="9" width="1" height="1"/><rect x="34" y="5" width="1" height="2"/><rect x="20" y="19" width="1" height="1"/><rect x="40" y="9" width="2" height="2"/><rect x="19" y="30" width="1" height="2"/><rect x="3" y="5" width="2" height="2"/><rect x="25" y="2" width="1" height="2"/><rect x="38" y="22" width="1" height="1"/><rect x="41" y="26" width="1" height="1"/><rect x="40" y="2" width="1" height="1"/><rect x="13" y="8" width="2" height="2"/><rect x="8" y="40" width="1" height="1"/><rect x="10" y="27" width="1" height="1"/><rect x="3" y="26" width="1" height="1"/><rect x="29" y="39" width="1" height="2"/></g></pattern></defs>
<polygon fill="url(#spk2)" points="130,488 146,478 152,482 142,500 139,515 141,535 137,552 130,552" />
<polygon fill="url(#spk)" points="135.5,533 142,532 144,537 140,541 136,540" />
<polygon fill="url(#spk2)" points="146,480 160,468 180,458 200,451 230,447 260,443 290,446 300,451 290,455 260,455 230,457 200,461 180,468 160,478" />
<polygon fill="url(#spk)" points="362,450 372,453 385,450 397,450 405,456 413,468 417,483 418,498 412,497 408,480 400,466 390,459 375,461 363,459" />
<polygon fill="#800000" points="363.9,456.6 369.8,462.5 377.6,460.5 385.4,456.6 397.1,456.6 404.9,464.5 412.7,474.2 416.6,485.9 414.7,497.7 418.6,507.4 422,507 419,497 420,485 416,472 409,462 400,452 392,450.5 386,450.5 377,453 368,453 363,450" />
<polygon fill="url(#spk)" points="549.7,360.6 538.75,365.3 529.4,368.4 520,371.6 513.75,374.7 507.5,379.4 504.4,385.6 498.1,385.6 491.9,387.2 482.5,395 473.1,402.8 466.9,407.5 454.4,413.75 445,420 440.3,429.4 438.75,441.9 441.9,457.5 433,457 429,441 431,427 438,414 452,404 464,397 472,390 480,384 490,377 500,372 510,366 520,361 530,357 540,352" />
<polygon fill="url(#spk)" points="438.75,441.9 441.9,457.5 446,470.3 451.8,482 445,482 438,468 433,455 431,442" />
<polygon fill="#D9FF22" points="539,281.6 541.4,295.6 539,308.1 537.5,317.5 539,326.9 541,330 534.4,328 533.6,314.4 535.2,303.4 532,292.5 533.6,283.1" />
<polyline fill="none" stroke="#D9FF22" stroke-width="1.5" stroke-linejoin="round" stroke-linecap="round" points="518.8,298.8 528.1,303.4 535.9,308.1" />
<polyline fill="none" stroke="#D9FF22" stroke-width="1.5" stroke-linejoin="round" stroke-linecap="round" points="517.2,297.2 523.4,295.6 531.2,300.3" />
<polygon fill="#7AFF80" points="581.6,254.4 597.2,250.5 616.7,247.6 628.4,246.6 630,247.5 616.7,250.5 597.2,254 581.6,257.5" />
<polygon fill="#A8FF55" points="534.7,308.1 544.5,308.1 544.5,321.8 540.5,325.7 534.7,321.8" />
<polygon fill="#55FFAA" points="550,281 556,284 562.5,290 560,293 554,290" />
<polygon fill="url(#spk2)" points="541,290 552,284 557,298 551,311 545,322 541,318 544,305" />
<polygon fill="#FFF500" points="529.7,359.4 533.6,354.7 543.75,350 548.4,348.4 550.8,354.7 550,360.2 539,363.3 532.8,365.6 530.5,363.3" />
<polygon fill="#FF7300" points="528.1,346.1 535.2,343.75 543.75,343.75 546.9,347.7 543.75,350.8 537.5,356.25 534.4,354.7 531.25,350" />
<polygon fill="#800000" points="531.25,332 535.2,332 535.5,342.2 531.5,342" />
<polygon fill="url(#spk)" points="518,331 531,330 540,338 538,352 528,362 520,368 510,372 505,365 512,355 514,345" />
<polygon fill="#800000" points="418.8,504.9 424.6,510.7 431.2,511.5 437.8,518.1 442.2,516.6 443.7,510 451,508.55 453.9,510.75 451,502 449.5,491 447.3,484.4 445.1,480 452.5,480 457.6,491 462.7,505.6 464.9,515.1 464.9,523.9 464.2,532.7 462.7,538.6 457.6,538.6 451,535.6 439.3,532.7 434.2,531.2 431.2,525.4 428.3,521 423.2,515.1 418.8,509.3" />
<polygon fill="#FF4600" points="434.2,532.7 457.6,537.1 456.9,545.9 451,548.1 445.1,545.9 439.3,537.8" />
<polygon fill="#E60000" points="446,534.5 457.6,537.1 456.9,545.9 451.5,545" />
<polygon fill="#FFCC00" points="440,540 446,542 449,548 445,547.5" />
<polygon fill="#D3D3D3" points="496.0,558.8 501.4,547.9 506.9,557.4 511.0,567.0 512.4,575.2 508.3,575.2 504.2,568.4 497.3,561.5" />
<polygon fill="#D3D3D3" points="491.9,520.5 504.2,519.1 513.8,523.2 520.6,524.6 522.0,528.7 517.9,535.5 515.1,528.7 504.2,521.9 493.2,522.6" />
<polyline fill="none" stroke="#FFFFFF" stroke-width="1.0" stroke-linejoin="round" stroke-linecap="round" points="485.0,520.5 491.9,522.6 504.2,520.5 513.8,519.1 520.6,524.6 517.9,534.9" />
<polyline fill="none" stroke="#FFFFFF" stroke-width="1.0" stroke-linejoin="round" stroke-linecap="round" points="524.7,542.4 538.4,549.2 537.0,557.4" />
<polyline fill="none" stroke="#FFFFFF" stroke-width="1.0" stroke-linejoin="round" stroke-linecap="round" points="526.1,558.8 538.4,575.2 549.3,582.0" />
<polyline fill="none" stroke="#FFFFFF" stroke-width="1.0" stroke-linejoin="round" stroke-linecap="round" points="546.6,558.8 553.4,568.4" />
<polyline fill="none" stroke="#FFFFFF" stroke-width="1.0" stroke-linejoin="round" stroke-linecap="round" points="553.4,576.6 561.6,590.2" />
<polyline fill="none" stroke="#FFFFFF" stroke-width="1.2" stroke-linejoin="round" stroke-linecap="round" points="572.5,593.0 579.4,595.7 573.9,603.9" />
<polyline fill="none" stroke="#FFFFFF" stroke-width="1.0" stroke-linejoin="round" stroke-linecap="round" points="594.4,600.5 601.3,601.9" />
<polyline fill="none" stroke="#FFFFFF" stroke-width="1.0" stroke-linejoin="round" stroke-linecap="round" points="512.4,551.3 519.9,549.9" />
<polyline fill="none" stroke="#fff" stroke-width="1.1" stroke-linejoin="round" points="838.5,162.6 830.3,165.1 822.1,168.2 813.8,171.3 803.6,175.4 793.3,179.5 783.1,183.1 773.8,185.6 767.7,186.7 760.5,189.7 750.3,197.9 740,204.1 738.8,205.3 732.5,205.3 726.3,199.1 724.7,191.3 729.4,185 738.8,180.3 755.9,170.9 754.4,163.9 751.3,166.3 745,167 732.5,170.9 720,174.8 713.1,175 707.7,179.1 691.3,186 671.9,190 670.7,194.7 663.1,197.6 655.5,200.5 649.6,202.9 642.6,209.3 637.9,217.5 641.4,221.6 636.7,225.1 635.5,228.1 640.2,231 644.3,238 649.6,238 652.3,235 649.8,232.2 653.7,234.5 654.3,239.2 644.3,240.4 636.7,242.7 629.4,243.5 620,245.9 625,247.2 618.75,251.1 593.75,259.7 578,261.25 576.6,273.75 570.3,283.1 562.5,290.9 557.8,298.75 551.6,311.25 545.3,322.2 540.6,330 545.6,338.6 550.3,355 549.7,360.6 538.75,365.3 529.4,368.4 520,371.6 513.75,374.7 507.5,379.4 504.4,385.6 498.1,385.6 491.9,387.2 482.5,395 473.1,402.8 466.9,407.5 454.4,413.75 445,420 440.3,429.4 438.75,441.9 438.1,446.9 440,458.6 446,470.3 451.8,482 457.7,495.7 463.5,509.4 465.5,521.1 464.5,536.7 459.6,546.5 451.8,548.4 444,544.5 436.2,536.7 430.3,525 424.5,515.2 418.6,507.4 414.7,497.7 416.6,485.9 412.7,474.2 404.9,464.5 397.1,456.6 385.4,456.6 377.6,460.5 369.8,462.5 363.9,456.6 354,452.5 341.5,451.25 329,451.25 319,452.5 304,452.5 293.75,452.8 291.4,461 297.3,476.25 290,477 282,475 263.3,475 252.7,469.2 238.7,465.7 224,464.5 211.5,464.5 199,465 189,468.75 179,475 169,480 159,485 149,492.5 141.5,500 140.8,505 140.8,518.7 144.3,532.7 137.3,546.8 134.7,559.1 132.9,594.2 135,606 140.8,617.1 151.4,634.7 160.1,655.7 169.6,666.25 182.1,672.5 193.1,678.1 210.25,674.1 232.1,666.25 247.75,660 250,658.1 256.6,649.8 258.3,636.5 264.9,626.6 274.9,618.3 291.5,614.9 313.1,611.6 338,610 340.5,616.6 339.6,626.6 331.3,638.2 326.4,648.1 323,659.8 319.7,673 316.4,686.3 314.7,702.9 312.25,722.8 321.4,721.2 338,720.4 356.2,719.5 376.2,722.8 389.4,726.2 399.4,731.1 406,737.8 407.7,746.1 402.7,759.4 400.2,770 399.5,780 397.6,791.7 394.6,807.3 401.5,821 413.2,836.6 424.9,846.4 438.6,854.2 448.4,854.2 462,848.4 473.75,841.5 483.5,842.5 501.1,847.4 512.8,856.2 520.6,859.1 528.4,857.1 536.25,846.4 546,838.6 549.9,821 555.8,816.1 567.5,813.2 575.3,808.3 580,807.3 593.1,803.75 608.75,791.25 621.25,786.6 630.6,791.25 624.4,800.6 618.1,810 622.8,816.25 625.9,817.8 640,810 665,805.3 680.6,810 690,822.5 705.6,821 727.5,822.5 743.1,828.75 748,831 762,825.1 783.1,820.5 801.9,818.1 823,817 823,832.2 811.2,832.2 817,845 830,859"/>
<polyline fill="none" stroke="#fff" stroke-width="2.6" points="137.3,548 134.2,559.1 132.4,594.2 134.5,606 140,617.6 150.6,635.2 159.5,656"/>
<polyline fill="none" stroke="#FFFFFF" stroke-width="1.5" stroke-linejoin="round" stroke-linecap="round" points="204.2,422.0 208.1,426.8 209.1,431.7 211.0,435.6" />
<polygon fill="#D9FF22" points="622.9,816.7 627.0,824.9 633.8,838.6 629.7,848.2 620.2,849.5 614.7,838.6 621.5,824.9" stroke="#fff" stroke-width="1"/>
<polygon fill="#D3D3D3" points="648.9,793.5 655.7,792.1 658.4,803.1 650.2,804.4" stroke="#fff" stroke-width="1"/>
<polygon fill="#FFFFFF" points="598.3,804.4 614.7,794.8 625.6,788.0 628.4,790.7 616.1,800.3 601.0,807.2" />
<ellipse cx="672.1" cy="791.6" rx="2.2" ry="1.1" fill="#fff"/>
<ellipse cx="684.4" cy="792.1" rx="1.6" ry="1.1" fill="#fff"/>
<ellipse cx="713.1" cy="798.1" rx="2.2" ry="1.1" fill="#fff"/>
<ellipse cx="725.4" cy="798.9" rx="1.1" ry="0.8" fill="#fff"/>
<ellipse cx="740.5" cy="815.4" rx="1.6" ry="0.8" fill="#fff"/>
<ellipse cx="763.7" cy="814.0" rx="2.2" ry="1.1" fill="#fff"/>
<ellipse cx="809.4" cy="716.9" rx="1.9" ry="3.8" fill="#D3D3D3" stroke="#fff" stroke-width="0.8"/>
<ellipse cx="814.9" cy="730.6" rx="1.9" ry="3.6" fill="#D3D3D3" stroke="#fff" stroke-width="0.8"/>
<ellipse cx="821.1" cy="745.6" rx="2.5" ry="3.0" fill="#D3D3D3" stroke="#fff" stroke-width="0.8"/>
<ellipse cx="822.0" cy="759.8" rx="1.4" ry="2.7" fill="#D3D3D3" stroke="#fff" stroke-width="0.8"/>
<ellipse cx="818.4" cy="773.0" rx="1.1" ry="1.6" fill="#D3D3D3" stroke="#fff" stroke-width="0.8"/>
<ellipse cx="817.0" cy="781.2" rx="0.8" ry="1.4" fill="#D3D3D3" stroke="#fff" stroke-width="0.8"/>
<ellipse cx="808.8" cy="793.5" rx="1.4" ry="2.2" fill="#D3D3D3" stroke="#fff" stroke-width="0.8"/>
<ellipse cx="806.1" cy="690.9" rx="1.4" ry="1.4" fill="#D3D3D3" stroke="#fff" stroke-width="0.8"/>
<ellipse cx="807.5" cy="699.7" rx="1.6" ry="1.6" fill="#D3D3D3" stroke="#fff" stroke-width="0.8"/>
<ellipse cx="789.1" cy="695.0" rx="2.7" ry="1.4" fill="#D3D3D3" stroke="#fff" stroke-width="0.8"/>
<ellipse cx="800.6" cy="706.0" rx="1.1" ry="1.1" fill="#D3D3D3" stroke="#fff" stroke-width="0.8"/>
<ellipse cx="752.8" cy="686.8" rx="2.7" ry="1.1" fill="#D3D3D3" stroke="#fff" stroke-width="0.8"/>
<ellipse cx="157.1" cy="678.1" rx="2.5" ry="1.8" transform="rotate(0 157.1 678.1)" fill="#fff"/>
<ellipse cx="211.8" cy="699" rx="3.5" ry="1.5" transform="rotate(15 211.8 699)" fill="#fff"/>
<ellipse cx="230.6" cy="719.4" rx="5" ry="1.5" transform="rotate(25 230.6 719.4)" fill="#fff"/>
<ellipse cx="314.9" cy="680" rx="1.5" ry="9" transform="rotate(10 314.9 680)" fill="#fff"/>
<ellipse cx="294.6" cy="730.3" rx="3" ry="1.8" transform="rotate(-20 294.6 730.3)" fill="#fff"/>
<ellipse cx="322.75" cy="775.6" rx="3.5" ry="2.5" transform="rotate(30 322.75 775.6)" fill="#fff"/>
<ellipse cx="349.3" cy="790.6" rx="3.5" ry="1.8" transform="rotate(20 349.3 790.6)" fill="#fff"/>
<ellipse cx="282.1" cy="702.2" rx="3" ry="1" transform="rotate(0 282.1 702.2)" fill="#fff"/>
<ellipse cx="175.9" cy="711.6" rx="1.5" ry="1.5" transform="rotate(0 175.9 711.6)" fill="#fff"/>
<ellipse cx="255.6" cy="746" rx="1.5" ry="1.5" transform="rotate(0 255.6 746)" fill="#fff"/>
<ellipse cx="333" cy="720" rx="4" ry="1.2" transform="rotate(-10 333 720)" fill="#fff"/>
<polyline fill="none" stroke="#FFFFFF" stroke-width="1.6" stroke-linejoin="round" stroke-linecap="round" points="313.6,327.2 316.1,337.1 318.6,347.1" />
<polyline fill="none" stroke="#FFFFFF" stroke-width="1.6" stroke-linejoin="round" stroke-linecap="round" points="328.6,368.6 336.1,372.1" />
<polyline fill="none" stroke="#FFFFFF" stroke-width="1.6" stroke-linejoin="round" stroke-linecap="round" points="410.9,374.6 417.4,379.6 423.4,387.0" />
<polyline fill="none" stroke="#FFFFFF" stroke-width="1.6" stroke-linejoin="round" stroke-linecap="round" points="493.3,334.7 500.8,335.6 508.2,337.6" />
<polyline fill="none" stroke="#FFFFFF" stroke-width="1.6" stroke-linejoin="round" stroke-linecap="round" points="256.2,199.9 257.7,205.9 258.7,212.4" />
<polyline fill="none" stroke="#FFFFFF" stroke-width="1.6" stroke-linejoin="round" stroke-linecap="round" points="585.6,177.5 590.6,189.9 594.1,204.9" />
<polyline fill="none" stroke="#FFFFFF" stroke-width="1.6" stroke-linejoin="round" stroke-linecap="round" points="523.2,217.4 528.2,222.4" />
<polyline fill="none" stroke="#FFFFFF" stroke-width="1.6" stroke-linejoin="round" stroke-linecap="round" points="530.7,214.9 534.2,223.9" />
<polyline fill="none" stroke="#FFFFFF" stroke-width="1.6" stroke-linejoin="round" stroke-linecap="round" points="518.2,219.9 524.2,224.9" />
<polyline fill="none" stroke="#FFFFFF" stroke-width="1.6" stroke-linejoin="round" stroke-linecap="round" points="428.4,189.9 448.4,185.0" />
<polyline fill="none" stroke="#FFFFFF" stroke-width="1.6" stroke-linejoin="round" stroke-linecap="round" points="543.2,189.9 558.1,182.5" />
<circle cx="366.0" cy="334.7" r="1.8" fill="#fff"/>
<circle cx="391.0" cy="377.1" r="1.8" fill="#fff"/>
<circle cx="438.4" cy="382.1" r="1.6" fill="#fff"/>
<circle cx="473.3" cy="324.7" r="1.6" fill="#fff"/>
<circle cx="151.5" cy="384.6" r="2" fill="#fff"/>
<circle cx="216.3" cy="372.1" r="1.5" fill="#fff"/>
<circle cx="278.7" cy="194.9" r="1.8" fill="#fff"/>
<circle cx="233.8" cy="185.0" r="1.5" fill="#fff"/>
<circle cx="306.1" cy="194.9" r="2" fill="#fff"/>
<circle cx="543.2" cy="209.9" r="1.5" fill="#fff"/>
<circle cx="498.3" cy="187.4" r="1.8" fill="#fff"/>
<circle cx="608.0" cy="172.5" r="1.5" fill="#fff"/>
<circle cx="628.0" cy="199.9" r="1.8" fill="#fff"/>
<circle cx="455.8" cy="369.6" r="1.5" fill="#fff"/>
<circle cx="178.9" cy="204.9" r="1.5" fill="#fff"/>
<circle cx="423.4" cy="234.9" r="1.5" fill="#fff"/>
<polygon fill="url(#spk2)" points="200.0,448.1 223.4,447.0 238.7,438.8 249.2,437.6 260.9,445.8 282.0,444.6 305.5,441.1 317.2,443.4 317.2,454.0 293.8,454.0 270.3,452.8 252.7,454.0 235.2,456.3 200.0,458.7" />
<polygon fill="#FFCC00" points="200.0,458.7 211.7,455.2 229.3,456.3 238.7,458.7 246.9,455.2 252.7,454.0 256.3,458.7 249.2,464.5 238.7,465.7 223.4,463.4 209.4,463.4 200.0,464.5" />
<polygon fill="#FFF500" points="217.6,458.7 229.3,458.1 237.5,461.0 232.8,463.9 221.1,462.8" />
<polygon fill="#FFF500" points="263.3,455.2 275.0,452.8 284.4,457.5 291.4,458.7 293.8,464.5 289.1,470.4 282.0,471.6 275.0,469.2 268.0,462.2" />
<polygon fill="#FF7300" points="251.6,455.2 258.6,457.5 265.6,464.5 272.7,466.9 276.2,471.6 270.3,472.7 260.9,469.2 253.9,464.5 250.4,459.8" />
<polygon fill="#D9FF22" points="270.3,451.6 279.7,451.6 284.4,455.2 279.7,457.5 272.7,456.3" />
<polygon fill="#FFA000" points="280.9,459.8 286.7,462.2 285.6,466.9 280.9,465.7" />
<polygon fill="#FFF500" points="282.0,466.9 291.4,469.2 297.3,475.1 293.8,477.4 286.7,475.1 282.0,471.6" />
<polygon fill="#FFCC00" points="260.9,469.2 270.3,472.7 265.6,475.1 258.6,472.7" />
<rect x="249.2" y="458.7" width="1.5" height="1.5" fill="#fff"/>
<rect x="260.9" y="461.0" width="1.5" height="1.5" fill="#fff"/>
<rect x="270.3" y="464.5" width="1.5" height="1.5" fill="#fff"/>
<rect x="276.2" y="458.7" width="1.5" height="1.5" fill="#fff"/>
<rect x="282.0" y="455.2" width="1.5" height="1.5" fill="#fff"/>
<rect x="289.1" y="465.7" width="1.5" height="1.5" fill="#fff"/>
<rect x="292.6" y="472.7" width="1.5" height="1.5" fill="#fff"/>
<rect x="265.6" y="471.6" width="1.5" height="1.5" fill="#fff"/>
<rect x="272.7" y="473.9" width="1.5" height="1.5" fill="#fff"/>
<rect x="235.2" y="463.4" width="1.5" height="1.5" fill="#fff"/>
<rect x="242.2" y="462.2" width="1.5" height="1.5" fill="#fff"/>
<rect x="256.3" y="466.9" width="1.5" height="1.5" fill="#fff"/>
<rect x="286.7" y="458.7" width="1.5" height="1.5" fill="#fff"/>
<rect x="294.9" y="458.7" width="1.5" height="1.5" fill="#fff"/>
<rect x="227.0" y="461.0" width="1.5" height="1.5" fill="#fff"/>
<polygon fill="#FF4600" points="757.5,170.2 774.7,169.4 770.0,172.2 760.6,174.4 758.3,173.3" />
<polygon fill="#FF7300" points="752.0,165.5 755.9,162.3 756.7,164.7 753.6,167.0" />
<polygon fill="#22FFD5" points="749.7,167.0 752.8,166.2 754.4,170.9 757.5,171.7 755.9,173.3 751.2,170.9" />
<ellipse cx="591" cy="625.5" rx="5" ry="2.2" transform="rotate(-25 591 625.5)" fill="#D3D3D3" stroke="#fff" stroke-width="0.8"/>
<polyline fill="none" stroke="#FFFFFF" stroke-width="1.2" stroke-linejoin="round" stroke-linecap="round" points="608.0,611.3 619.7,613.3 625.5,617.2" />
<polyline fill="none" stroke="#FFFFFF" stroke-width="1.0" stroke-linejoin="round" stroke-linecap="round" points="572.8,593.8 578.7,597.7 574.8,603.5" />
<polyline fill="none" stroke="#FFFFFF" stroke-width="1.0" stroke-linejoin="round" stroke-linecap="round" points="594.3,600.8 600.9,602.3" />
<ellipse cx="756" cy="672" rx="3.5" ry="2.5" fill="#fff"/>
<ellipse cx="479" cy="856.5" rx="9" ry="4" fill="#fff"/>
<polyline fill="none" stroke="#fff" stroke-width="2" points="546,846.4 549,838 550.5,826 556,818 567,815"/>
<ellipse cx="478" cy="185" rx="2.5" ry="1.5" fill="#fff"/>
<ellipse cx="488" cy="188" rx="3" ry="1.5" fill="#fff"/>
<ellipse cx="497" cy="186" rx="2" ry="1.2" fill="#fff"/>
<ellipse cx="534" cy="184" rx="1.5" ry="3" fill="#fff"/>
<ellipse cx="531" cy="171" rx="1.5" ry="1.5" fill="#fff"/>
<ellipse cx="500" cy="171" rx="1.5" ry="1.5" fill="#fff"/>
<ellipse cx="593" cy="182" rx="1.5" ry="5" fill="#fff"/>
<polygon fill="#FFFFFF" points="160,655 169.6,666.25 182.1,672.5 193.1,678.1 210.25,674.1 232.1,666.25 247.75,660 250,658.1 255,666 245,670 222,676 194,682 180,677 168,671 156,660" />
<circle cx="751" cy="415" r="1.2" fill="#fff"/>
<polygon fill="#FFCC00" points="178,472 190,465.5 205,460 218,457 230,455 230,459.5 214,462 199,466.5 184,472.5 178,475" opacity="0.75"/>
<polygon fill="#FFF500" points="195,464 208,460 218,458.5 214,461 200,465" />
</g>
<rect x="129.5" y="162.5" width="710.5" height="698" fill="none" stroke="#000" stroke-width="1.2"/>
<line x1="185.6" y1="860.5" x2="185.6" y2="877" class="k"/>
<text x="185.6" y="910.5" class="ax" text-anchor="middle">95°W</text>
<line x1="279.2" y1="860.5" x2="279.2" y2="877" class="k"/>
<text x="279.2" y="910.5" class="ax" text-anchor="middle">90°W</text>
<line x1="372.7" y1="860.5" x2="372.7" y2="877" class="k"/>
<text x="372.7" y="910.5" class="ax" text-anchor="middle">85°W</text>
<line x1="466.3" y1="860.5" x2="466.3" y2="877" class="k"/>
<text x="466.3" y="910.5" class="ax" text-anchor="middle">80°W</text>
<line x1="559.9" y1="860.5" x2="559.9" y2="877" class="k"/>
<text x="559.9" y="910.5" class="ax" text-anchor="middle">75°W</text>
<line x1="653.4" y1="860.5" x2="653.4" y2="877" class="k"/>
<text x="653.4" y="910.5" class="ax" text-anchor="middle">70°W</text>
<line x1="747.0" y1="860.5" x2="747.0" y2="877" class="k"/>
<text x="747.0" y="910.5" class="ax" text-anchor="middle">65°W</text>
<line x1="112.5" y1="177.4" x2="129.5" y2="177.4" class="k"/>
<text x="99.3" y="185.9" class="ax" text-anchor="end">45°N</text>
<line x1="112.5" y1="271.0" x2="129.5" y2="271.0" class="k"/>
<text x="99.3" y="279.5" class="ax" text-anchor="end">40°N</text>
<line x1="112.5" y1="364.6" x2="129.5" y2="364.6" class="k"/>
<text x="99.3" y="373.1" class="ax" text-anchor="end">35°N</text>
<line x1="112.5" y1="458.2" x2="129.5" y2="458.2" class="k"/>
<text x="99.3" y="466.7" class="ax" text-anchor="end">30°N</text>
<line x1="112.5" y1="551.7" x2="129.5" y2="551.7" class="k"/>
<text x="99.3" y="560.2" class="ax" text-anchor="end">25°N</text>
<line x1="112.5" y1="645.3" x2="129.5" y2="645.3" class="k"/>
<text x="99.3" y="653.8" class="ax" text-anchor="end">20°N</text>
<line x1="112.5" y1="738.9" x2="129.5" y2="738.9" class="k"/>
<text x="99.3" y="747.4" class="ax" text-anchor="end">15°N</text>
<line x1="112.5" y1="832.5" x2="129.5" y2="832.5" class="k"/>
<text x="99.3" y="841.0" class="ax" text-anchor="end">10°N</text>
<rect x="879" y="170.00" width="42" height="31.04" fill="#800000" stroke="#000" stroke-width="1"/>
<rect x="879" y="201.04" width="42" height="31.04" fill="#B40000" stroke="#000" stroke-width="1"/>
<rect x="879" y="232.08" width="42" height="31.04" fill="#E60000" stroke="#000" stroke-width="1"/>
<rect x="879" y="263.12" width="42" height="31.04" fill="#FF1400" stroke="#000" stroke-width="1"/>
<rect x="879" y="294.16" width="42" height="31.04" fill="#FF4600" stroke="#000" stroke-width="1"/>
<rect x="879" y="325.20" width="42" height="31.04" fill="#FF7300" stroke="#000" stroke-width="1"/>
<rect x="879" y="356.24" width="42" height="31.04" fill="#FFA000" stroke="#000" stroke-width="1"/>
<rect x="879" y="387.28" width="42" height="31.04" fill="#FFCC00" stroke="#000" stroke-width="1"/>
<rect x="879" y="418.32" width="42" height="31.04" fill="#FFF500" stroke="#000" stroke-width="1"/>
<rect x="879" y="449.36" width="42" height="31.04" fill="#D9FF22" stroke="#000" stroke-width="1"/>
<rect x="879" y="480.40" width="42" height="31.04" fill="#A8FF55" stroke="#000" stroke-width="1"/>
<rect x="879" y="511.44" width="42" height="31.04" fill="#7AFF80" stroke="#000" stroke-width="1"/>
<rect x="879" y="542.48" width="42" height="31.04" fill="#55FFAA" stroke="#000" stroke-width="1"/>
<rect x="879" y="573.52" width="42" height="31.04" fill="#22FFD5" stroke="#000" stroke-width="1"/>
<rect x="879" y="604.56" width="42" height="31.04" fill="#00F0FF" stroke="#000" stroke-width="1"/>
<rect x="879" y="635.60" width="42" height="31.04" fill="#00C0FF" stroke="#000" stroke-width="1"/>
<rect x="879" y="666.64" width="42" height="31.04" fill="#0090FF" stroke="#000" stroke-width="1"/>
<rect x="879" y="697.68" width="42" height="31.04" fill="#0060FF" stroke="#000" stroke-width="1"/>
<rect x="879" y="728.72" width="42" height="31.04" fill="#0030FF" stroke="#000" stroke-width="1"/>
<rect x="879" y="759.76" width="42" height="31.04" fill="#0000F0" stroke="#000" stroke-width="1"/>
<rect x="879" y="790.80" width="42" height="31.04" fill="#0000C8" stroke="#000" stroke-width="1"/>
<rect x="879" y="821.84" width="42" height="31.04" fill="#0000A0" stroke="#000" stroke-width="1"/>
<text x="960" y="212.8" class="cb" text-anchor="middle">2</text>
<text x="960" y="274.9" class="cb" text-anchor="middle">1.6</text>
<text x="960" y="337.0" class="cb" text-anchor="middle">1.2</text>
<text x="960" y="399.1" class="cb" text-anchor="middle">0.8</text>
<text x="960" y="461.2" class="cb" text-anchor="middle">0.4</text>
<text x="960" y="523.2" class="cb" text-anchor="middle">0</text>
<text x="960" y="585.3" class="cb" text-anchor="middle">-0.4</text>
<text x="960" y="647.4" class="cb" text-anchor="middle">-0.8</text>
<text x="960" y="709.5" class="cb" text-anchor="middle">-1.2</text>
<text x="960" y="771.6" class="cb" text-anchor="middle">-1.6</text>
<text x="960" y="833.6" class="cb" text-anchor="middle">-2</text>
<text x="234.5" y="133.5" style="font-size:26px" text-anchor="middle">2020112316</text>
<text x="732" y="128.5" style="font-size:25.6px" text-anchor="middle">Elevation (m)</text>
<text x="484" y="945" class="ax" text-anchor="middle">Longitude</text>
<text transform="translate(41.8,512) rotate(-90)" class="ax" text-anchor="middle">Latitude</text>
</svg>
</body></html>
